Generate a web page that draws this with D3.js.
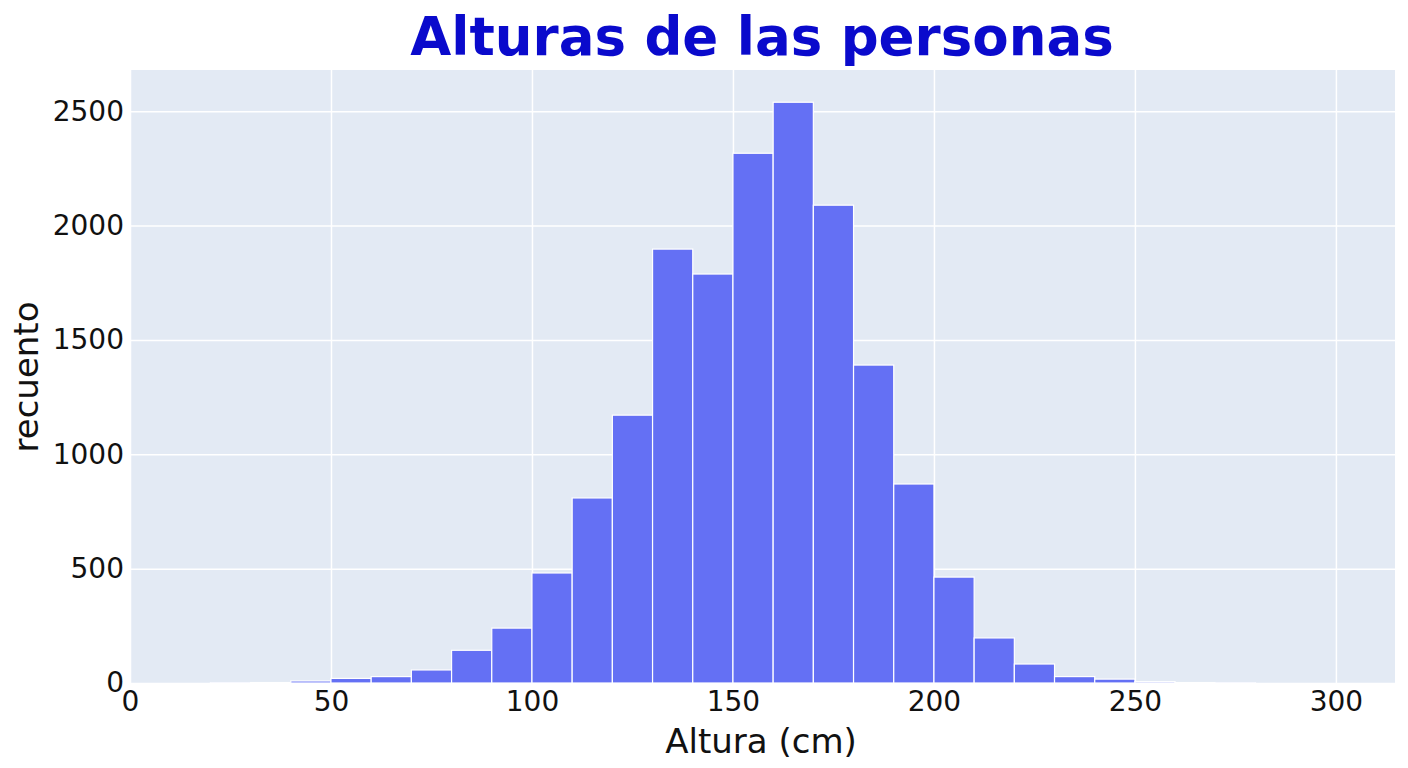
<!DOCTYPE html>
<html><head><meta charset="utf-8">
<script src="https://cdn.jsdelivr.net/npm/d3@7"></script>
<style>body{margin:0;background:#fff;}svg{display:block;font-family:"DejaVu Sans",sans-serif;}</style>
</head><body>
<svg id="c" width="1408" height="768"></svg>
<script>
const binStarts = [0,10,20,30,40,50,60,70,80,90,100,110,120,130,140,150,160,170,180,190,200,210,220,230,240,250,260,270,280,290,300];
const counts    = [0,0,1,2,9,20,28,57,143,240,481,809,1171,1897,1788,2316,2539,2089,1390,870,463,197,83,28,17,6,2,1,0,0,0];
const binWidth = 10;
const xTicks = [0,50,100,150,200,250,300];
const yTicks = [0,500,1000,1500,2000,2500];
const titleText = "Alturas de las personas";
const xLabel = "Altura (cm)";
const yLabel = "recuento";

const FONT = "'DejaVu Sans', sans-serif";
const svg = d3.select("#c");
const L=130,R=1395,T=70,B=683;
const x = d3.scaleLinear().domain([0,314.7]).range([L,R]);
const y = d3.scaleLinear().domain([0,2680]).range([B,T]);

svg.append("rect").attr("x",L).attr("y",T).attr("width",R-L).attr("height",B-T).attr("fill","#E3EAF4");

const gx = svg.append("g").attr("transform",`translate(0,${B})`)
  .call(d3.axisBottom(x).tickValues(xTicks).tickSize(-(B-T)).tickPadding(8).tickFormat(d3.format("d")));
gx.attr("font-family",FONT);
gx.select(".domain").remove();
gx.selectAll("line").attr("stroke","#fff").attr("stroke-width",1.5);
gx.selectAll("text").attr("font-size",28).attr("fill","#111").attr("dy","0.72em");

const gy = svg.append("g").attr("transform",`translate(${L},0)`)
  .call(d3.axisLeft(y).tickValues(yTicks).tickSize(-(R-L)).tickPadding(6).tickFormat(d3.format("d")));
gy.attr("font-family",FONT);
gy.select(".domain").remove();
gy.selectAll("line").attr("stroke","#fff").attr("stroke-width",1.5);
gy.selectAll("text").attr("font-size",28).attr("fill","#111");

const data = binStarts.map((s,i)=>({x0:s,x1:s+binWidth,c:counts[i]})).filter(d=>d.c>0);
svg.append("g").selectAll("rect").data(data).join("rect")
  .attr("x",d=>x(d.x0)).attr("width",d=>x(d.x1)-x(d.x0))
  .attr("y",d=>y(d.c)).attr("height",d=>B-y(d.c))
  .attr("fill","#6470F4").attr("stroke","#fff").attr("stroke-width",1.2);

svg.append("text").attr("x",762).attr("y",55).attr("text-anchor","middle").attr("font-family",FONT)
  .attr("font-size",53).attr("font-weight","bold").attr("fill","#0A0ACC").text(titleText);
svg.append("text").attr("x",761).attr("y",753).attr("text-anchor","middle").attr("font-family",FONT)
  .attr("font-size",34).attr("fill","#111").text(xLabel);
svg.append("text").attr("transform",`translate(38,${377}) rotate(-90)`).attr("text-anchor","middle").attr("font-family",FONT)
  .attr("font-size",34).attr("fill","#111").text(yLabel);
</script>
</body></html>
